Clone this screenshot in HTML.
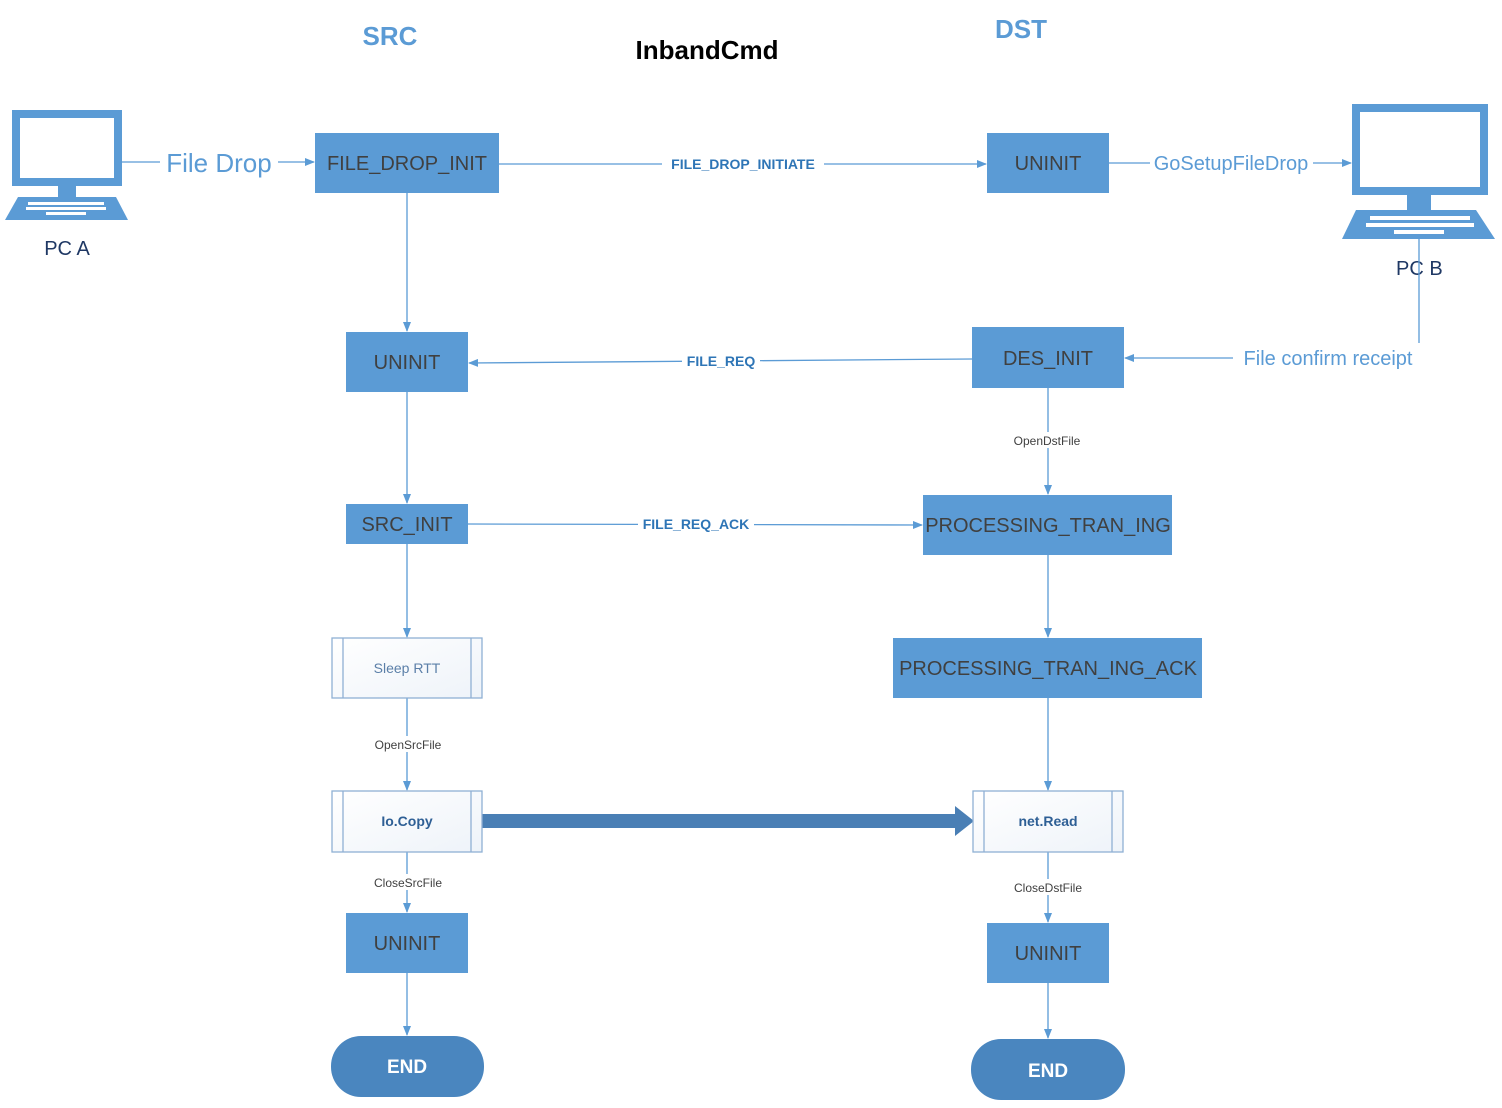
<!DOCTYPE html>
<html><head><meta charset="utf-8"><style>
html,body{margin:0;padding:0;background:#fff}
svg{display:block}
text{font-family:"Liberation Sans",sans-serif}
</style></head><body>
<svg width="1502" height="1108" viewBox="0 0 1502 1108" xmlns="http://www.w3.org/2000/svg">
<defs>
<marker id="a" markerWidth="10" markerHeight="8" refX="9" refY="4" orient="auto" markerUnits="userSpaceOnUse"><path d="M0,0 L10,4 L0,8 z" fill="#5b9bd5"/></marker>
<linearGradient id="g" x1="0" y1="0" x2="1" y2="1"><stop offset="0" stop-color="#ffffff"/><stop offset="1" stop-color="#eef3f9"/></linearGradient>
</defs>
<g fill="#5b9bd5" font-weight="bold" font-size="26">
<text x="390" y="45" text-anchor="middle">SRC</text>
<text x="1021" y="38" text-anchor="middle">DST</text>
</g>
<text x="707" y="59" text-anchor="middle" font-size="26" font-weight="bold" fill="#000">InbandCmd</text>

<!-- PC A -->
<rect x="16" y="114" width="102" height="68" fill="#fff" stroke="#5b9bd5" stroke-width="8"/>
<rect x="58" y="185" width="18" height="12" fill="#5b9bd5"/>
<path d="M18,197 L116,197 L128,220 L5,220 Z" fill="#5b9bd5"/>
<g fill="#fff"><rect x="28" y="202" width="76" height="3"/><rect x="26" y="207" width="80" height="3"/><rect x="46" y="212" width="40" height="3"/></g>
<text x="67" y="255" text-anchor="middle" font-size="20" fill="#1f3864">PC A</text>

<!-- PC B -->
<rect x="1356" y="108" width="128" height="83" fill="#fff" stroke="#5b9bd5" stroke-width="8"/>
<rect x="1407" y="195" width="24" height="15" fill="#5b9bd5"/>
<path d="M1356,210 L1476,210 L1495,239 L1342,239 Z" fill="#5b9bd5"/>
<g fill="#fff"><rect x="1370" y="216" width="100" height="4"/><rect x="1366" y="223" width="108" height="4"/><rect x="1394" y="230" width="50" height="4"/></g>
<text x="1396" y="275" font-size="20" fill="#1f3864">PC  B</text>

<g stroke="#5b9bd5" stroke-width="1.3" fill="none">
<line x1="122" y1="162" x2="160" y2="162"/>
<line x1="278" y1="162" x2="314" y2="162" marker-end="url(#a)"/>
<line x1="499" y1="164" x2="986" y2="164" marker-end="url(#a)"/>
<line x1="1109" y1="163" x2="1150" y2="163"/>
<line x1="1313" y1="163" x2="1351" y2="163" marker-end="url(#a)"/>
<polyline points="1419,239 1419,343"/>
<line x1="1233" y1="358" x2="1125" y2="358" marker-end="url(#a)"/>
<line x1="972" y1="359" x2="469" y2="363" marker-end="url(#a)"/>
<line x1="468" y1="524" x2="922" y2="525" marker-end="url(#a)"/>
<line x1="407" y1="193" x2="407" y2="331" marker-end="url(#a)"/>
<line x1="407" y1="392" x2="407" y2="503" marker-end="url(#a)"/>
<line x1="407" y1="544" x2="407" y2="637" marker-end="url(#a)"/>
<line x1="407" y1="698" x2="407" y2="790" marker-end="url(#a)"/>
<line x1="407" y1="852" x2="407" y2="912" marker-end="url(#a)"/>
<line x1="407" y1="973" x2="407" y2="1035" marker-end="url(#a)"/>
<line x1="1048" y1="388" x2="1048" y2="494" marker-end="url(#a)"/>
<line x1="1048" y1="555" x2="1048" y2="637" marker-end="url(#a)"/>
<line x1="1048" y1="698" x2="1048" y2="790" marker-end="url(#a)"/>
<line x1="1048" y1="852" x2="1048" y2="922" marker-end="url(#a)"/>
<line x1="1048" y1="983" x2="1048" y2="1038" marker-end="url(#a)"/>
</g>

<!-- big arrow -->
<path d="M482,814 L955,814 L955,806 L974,821 L955,836 L955,828 L482,828 Z" fill="#4a7fb5"/>

<g fill="#5b9bd5">
<text x="219" y="172" text-anchor="middle" font-size="26">File Drop</text>
<text x="1231" y="170" text-anchor="middle" font-size="20">GoSetupFileDrop</text>
<text x="1328" y="365" text-anchor="middle" font-size="20">File confirm receipt</text>
</g>
<g fill="#2e75b6" font-size="14" font-weight="bold" text-anchor="middle">
<rect x="662" y="155" width="162" height="18" fill="#fff"/>
<text x="743" y="169">FILE_DROP_INITIATE</text>
<rect x="682" y="352" width="78" height="18" fill="#fff"/>
<text x="721" y="366">FILE_REQ</text>
<rect x="638" y="516" width="116" height="18" fill="#fff"/>
<text x="696" y="529">FILE_REQ_ACK</text>
</g>
<g font-size="12" fill="#404040" text-anchor="middle">
<rect x="1008" y="432" width="78" height="16" fill="#fff"/>
<text x="1047" y="445">OpenDstFile</text>
<rect x="370" y="736" width="76" height="16" fill="#fff"/>
<text x="408" y="749">OpenSrcFile</text>
<rect x="370" y="874" width="76" height="16" fill="#fff"/>
<text x="408" y="887">CloseSrcFile</text>
<rect x="1010" y="879" width="76" height="16" fill="#fff"/>
<text x="1048" y="892">CloseDstFile</text>
</g>

<g fill="#5b9bd5">
<rect x="315" y="133" width="184" height="60"/>
<rect x="987" y="133" width="122" height="60"/>
<rect x="346" y="332" width="122" height="60"/>
<rect x="972" y="327" width="152" height="61"/>
<rect x="346" y="504" width="122" height="40"/>
<rect x="923" y="495" width="249" height="60"/>
<rect x="893" y="638" width="309" height="60"/>
<rect x="346" y="913" width="122" height="60"/>
<rect x="987" y="923" width="122" height="60"/>
</g>
<g fill="#4a86bf">
<rect x="331" y="1036" width="153" height="61" rx="30"/>
<rect x="971" y="1039" width="154" height="61" rx="30"/>
</g>
<g fill="url(#g)" stroke="#8fb0d4" stroke-width="1.3">
<rect x="332" y="638" width="150" height="60"/>
<rect x="332" y="791" width="150" height="61"/>
<rect x="973" y="791" width="150" height="61"/>
</g>
<g stroke="#8fb0d4" stroke-width="1.3">
<line x1="343" y1="638" x2="343" y2="698"/><line x1="471" y1="638" x2="471" y2="698"/>
<line x1="343" y1="791" x2="343" y2="852"/><line x1="471" y1="791" x2="471" y2="852"/>
<line x1="984" y1="791" x2="984" y2="852"/><line x1="1112" y1="791" x2="1112" y2="852"/>
</g>

<g fill="#404040" font-size="20" text-anchor="middle">
<text x="407" y="170">FILE_DROP_INIT</text>
<text x="1048" y="170">UNINIT</text>
<text x="407" y="369">UNINIT</text>
<text x="1048" y="365">DES_INIT</text>
<text x="407" y="531">SRC_INIT</text>
<text x="1048" y="532">PROCESSING_TRAN_ING</text>
<text x="1048" y="675">PROCESSING_TRAN_ING_ACK</text>
<text x="407" y="950">UNINIT</text>
<text x="1048" y="960">UNINIT</text>
</g>
<text x="407" y="673" text-anchor="middle" font-size="14" fill="#5b7fa8">Sleep RTT</text>
<text x="407" y="826" text-anchor="middle" font-size="14" font-weight="bold" fill="#2e5f95">Io.Copy</text>
<text x="1048" y="826" text-anchor="middle" font-size="14" font-weight="bold" fill="#2e5f95">net.Read</text>
<g fill="#fff" font-size="19" font-weight="bold" text-anchor="middle">
<text x="407" y="1073">END</text>
<text x="1048" y="1077">END</text>
</g>
</svg>
</body></html>
